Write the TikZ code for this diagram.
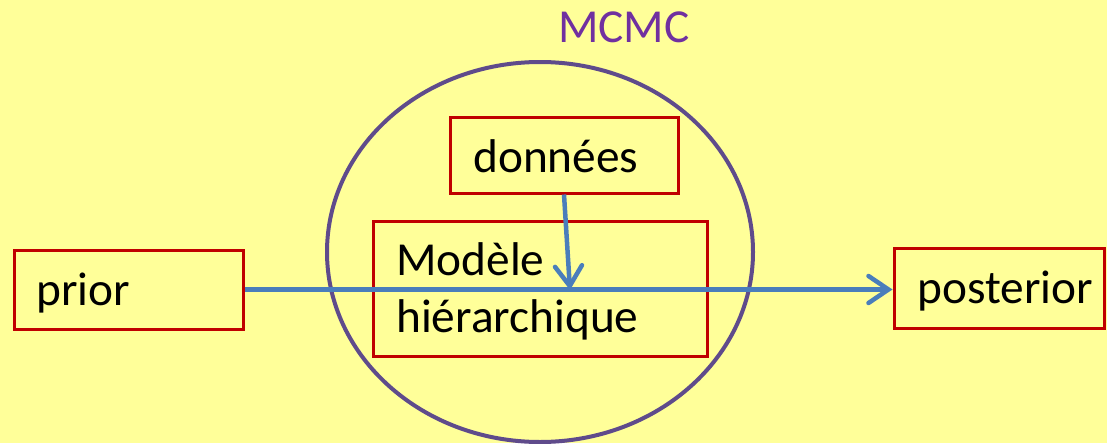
\documentclass[tikz,border=0pt]{standalone}
\usepackage{fontspec}
\setmainfont{Carlito}
\usetikzlibrary{arrows.meta,shapes.geometric}
\definecolor{bg}{HTML}{FFFF99}
\definecolor{boxred}{HTML}{C00000}
\definecolor{flow}{HTML}{4A7EBB}
\definecolor{ring}{HTML}{5F4B8B}
\definecolor{mcmcpurple}{HTML}{7030A0}
\def\upx{0.75pt}
\begin{document}
\begin{tikzpicture}[x=0.75pt,y=-0.75pt,
  box/.style={draw=boxred,line width=3*\upx,rectangle,inner sep=0pt},
  txt/.style={anchor=base west,inner sep=0pt,font=\fontsize{35.5}{42}\selectfont},
  flowarrow/.style={draw=flow,line width=4.5*\upx,
    -{Straight Barb[length=20*\upx,width=27*\upx,line cap=round]}}]
  % page and background
  \useasboundingbox[fill=bg] (0,0) rectangle (1107,443);

  % MCMC scope ring
  \node[ellipse,draw=ring,line width=4*\upx,minimum width=426*\upx,
        minimum height=380*\upx,inner sep=0pt] (ring) at (540,252) {};
  \node[txt,text=mcmcpurple] (mcmc) at (558,42) {MCMC};

  % boxes
  \node[box,minimum width=229*\upx,minimum height=79*\upx] (prior) at (128.5,289.5) {};
  \node[box,minimum width=210*\upx,minimum height=80*\upx] (posterior) at (999,288) {};
  \node[box,minimum width=228*\upx,minimum height=76*\upx] (donnees) at (564,155) {};
  \node[box,minimum width=334*\upx,minimum height=135*\upx] (modele) at (540,288.5) {};

  % texts
  \node[txt] (priortxt) at (36,305) {prior};
  \node[txt] (posteriortxt) at (917,303) {posterior};
  \node[txt] (donneestxt) at (473,172) {données};
  \node[txt] (modeletxt) at (396,275) {Modèle};
  \node[txt] (hiertxt) at (396,332) {hiérarchique};

  % flows
  \coordinate (join) at (570,290);
  \draw[flowarrow] (prior.east) -- (prior.east -| posterior.west);
  \draw[flowarrow] (donnees.south) -- (join);
\end{tikzpicture}
\end{document}
